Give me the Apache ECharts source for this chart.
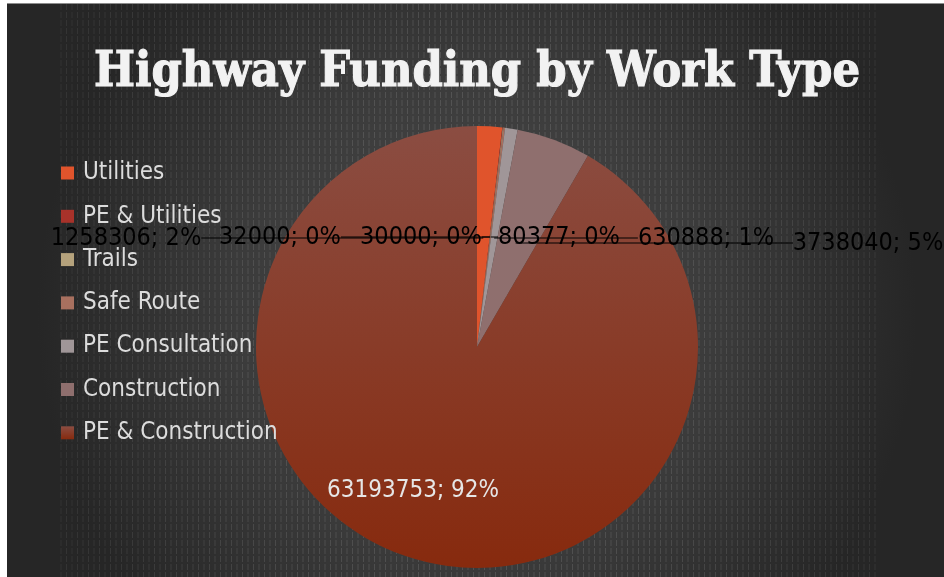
<!DOCTYPE html>
<html>
<head>
<meta charset="utf-8">
<script src="https://cdn.jsdelivr.net/npm/echarts@6/dist/echarts.min.js"></script>
<style>
  html, body { margin: 0; padding: 0; background: #ffffff; }
  #frame { position: absolute; left: 7px; top: 3px; width: 937px; height: 574px; border-top: 1px solid #8c8c8c; }
  #main { width: 937px; height: 573px; }
</style>
</head>
<body>
<div id="frame"><div id="main"></div></div>
<script>
const titleText = "Highway Funding by Work Type";
const categories = ["Utilities", "PE & Utilities", "Trails", "Safe Route", "PE Consultation", "Construction", "PE & Construction"];
const amounts = [1258306, 32000, 30000, 80377, 630888, 3738040, 63193753];
const sliceColors = ["#e0542c", "#a8322a", "#b5a27c", "#a8705f", "#a09698", "#8f6f6e", "#8c3f2e"];

// where Excel dropped each data label (chart coords)
const labelSpots = [[119, 234], [273, 233], [414, 233], [552, 233], [699, 234], [861, 239], [406, 487]];

const CX = 470, CY = 343, R = 221;

const total = amounts.reduce((a, b) => a + b, 0);
let acc = 0;
const midAngles = amounts.map(v => {
  const a = (acc + v / 2) / total * 2 * Math.PI;
  acc += v;
  return a;
});

const ctx = document.createElement("canvas").getContext("2d");
function hasFont(name) {
  ctx.font = '40px monospace';
  const a = ctx.measureText("PE Consultation 0123").width;
  ctx.font = '40px "' + name + '", monospace';
  return ctx.measureText("PE Consultation 0123").width !== a;
}
const condensed = hasFont("DejaVu Sans Condensed");
const textFamily = condensed ? "DejaVu Sans Condensed" : "DejaVu Sans";
const labelSize = condensed ? 25 : 22;
const legendSize = condensed ? 24 : 21;

// squeeze the title to the width it has in the picture
const titleFont = 'bold 49px "DejaVu Serif"';
ctx.font = titleFont;
const titleScale = 766 / ctx.measureText(titleText).width;

// faint dashed texture of the Excel background, stronger near the middle
const texture = [];
for (let x = 54; x < 872; x += 5.5) {
  const d = Math.abs(x - 470) / 420;
  const alpha = 0.15 * (1 - 0.5 * d * d);
  texture.push({
    type: "line",
    silent: true,
    shape: { x1: x, y1: 0, x2: x, y2: 573 },
    style: { stroke: "rgba(215,215,215," + alpha.toFixed(3) + ")", lineWidth: 1, lineDash: [6, 2] }
  });
}

const chart = echarts.init(document.getElementById("main"));

const slices = categories.map((name, i) => {
  const item = { name, value: amounts[i], itemStyle: { color: sliceColors[i] } };
  if (i === categories.length - 1) {
    item.itemStyle.color = new echarts.graphic.LinearGradient(0, 0, 0, 1, [
      { offset: 0, color: "#8b4d42" },
      { offset: 1, color: "#872a0e" }
    ]);
  }
  return item;
});

const labelItems = categories.map((name, i) => {
  const item = { name, value: amounts[i] };
  if (i === categories.length - 1) {
    item.label = { color: "#e6e6e6", fontSize: labelSize - 1 };
    item.labelLine = { show: false };
  }
  return item;
});

chart.setOption({
  backgroundColor: "#262626",
  animation: false,
  graphic: [
    {
      type: "circle",
      silent: true,
      z: -10,
      shape: { cx: 470, cy: 310, r: 440 },
      style: {
        fill: new echarts.graphic.RadialGradient(0.5, 0.5, 0.5, [
          { offset: 0, color: "#4a4a4a" },
          { offset: 0.55, color: "#3b3b3b" },
          { offset: 1, color: "#262626" }
        ])
      }
    },
    { type: "group", silent: true, z: -5, children: texture },
    {
      type: "text",
      silent: true,
      z: 10,
      x: 470,
      y: 69,
      scaleX: titleScale,
      style: {
        text: titleText,
        font: titleFont,
        fill: "#f2f2f2",
        stroke: "#f2f2f2",
        lineWidth: 1.2,
        align: "center",
        verticalAlign: "middle",
        shadowColor: "rgba(0,0,0,0.5)",
        shadowBlur: 3,
        shadowOffsetX: 1,
        shadowOffsetY: 1
      }
    }
  ],
  legend: {
    orient: "vertical",
    left: 54,
    top: 157,
    padding: 0,
    itemWidth: 13,
    itemHeight: 13,
    itemGap: 19.3,
    icon: "rect",
    data: categories,
    textStyle: {
      color: "#dcdcdc",
      fontFamily: textFamily,
      fontSize: legendSize,
      lineHeight: 22,
      padding: [0, 0, 0, 4]
    }
  },
  series: [
    {
      type: "pie",
      name: "slices",
      z: 1,
      center: [CX, CY],
      radius: R,
      startAngle: 90,
      clockwise: true,
      label: { show: false },
      labelLine: { show: false },
      data: slices
    },
    {
      // same data again, invisible, only to carry labels and leader lines above the slices
      type: "pie",
      name: "labels",
      z: 3,
      silent: true,
      center: [CX, CY],
      radius: R,
      startAngle: 90,
      clockwise: true,
      percentPrecision: 0,
      avoidLabelOverlap: false,
      itemStyle: { color: "rgba(0,0,0,0)" },
      label: {
        show: true,
        position: "outside",
        formatter: "{c}; {d}%",
        color: "#000000",
        fontFamily: textFamily,
        fontSize: labelSize
      },
      labelLine: {
        show: true,
        lineStyle: { color: "#000000", width: 1 }
      },
      labelLayout: function (params) {
        const i = params.dataIndex;
        const lx = labelSpots[i][0];
        const ly = labelSpots[i][1];
        if (i === categories.length - 1) {
          return { x: lx, y: ly, align: "center", verticalAlign: "middle" };
        }
        const w = params.labelRect.width;
        const wx = CX + (CY - ly) * Math.tan(midAngles[i]);
        const edge = lx < wx ? lx + w / 2 : lx - w / 2;
        return {
          x: lx,
          y: ly,
          align: "center",
          verticalAlign: "middle",
          labelLinePoints: [[wx, ly], [wx, ly], [edge, ly]]
        };
      },
      data: labelItems
    }
  ]
});
</script>
</body>
</html>
